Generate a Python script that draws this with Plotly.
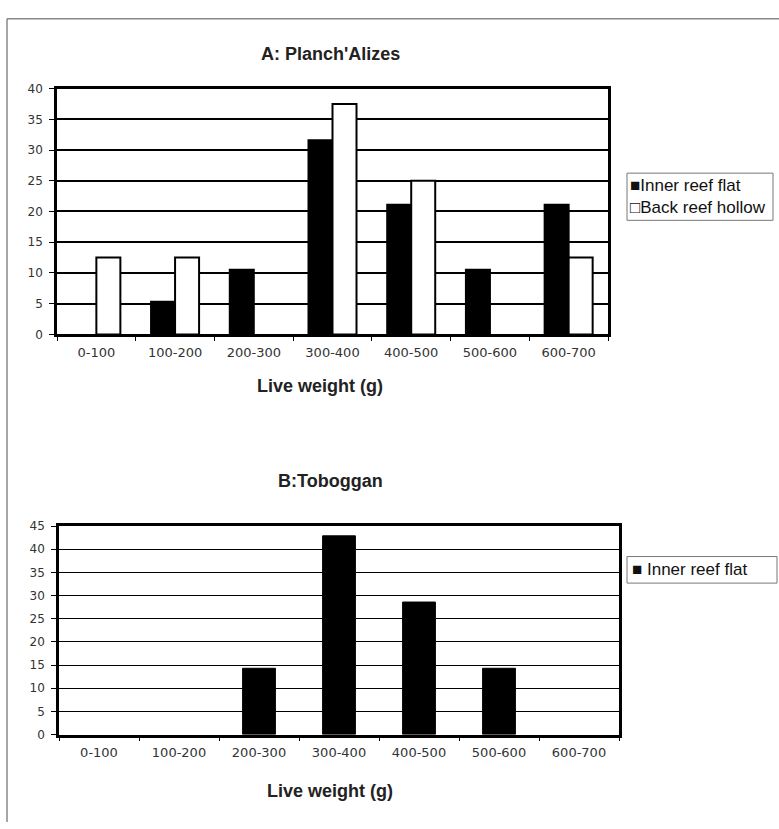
import plotly.graph_objects as go

categories = ["0-100", "100-200", "200-300", "300-400", "400-500", "500-600", "600-700"]
a_inner = [0, 5.3, 10.5, 31.6, 21.1, 10.5, 21.1]
a_back = [12.5, 12.5, 0, 37.5, 25.0, 0, 12.5]
b_inner = [0, 0, 14.3, 42.9, 28.6, 14.3, 0]
a_yticks = [0, 5, 10, 15, 20, 25, 30, 35, 40]
b_yticks = [0, 5, 10, 15, 20, 25, 30, 35, 40, 45]
legend_a = ["Inner reef flat", "Back reef hollow"]
legend_b = ["Inner reef flat"]

W, H = 779, 829
def px(x):
    return x / W
def py(y):
    return 1 - y / H

def lw(vals, w):
    return [w if v > 0 else 0 for v in vals]

fig = go.Figure()
fig.add_trace(go.Bar(x=categories, y=a_inner, name=legend_a[0],
                     marker=dict(color="black", line=dict(color="black", width=lw(a_inner, 2))),
                     xaxis="x", yaxis="y", showlegend=False))
fig.add_trace(go.Bar(x=categories, y=a_back, name=legend_a[1],
                     marker=dict(color="white", line=dict(color="black", width=lw(a_back, 2))),
                     xaxis="x", yaxis="y", showlegend=False))
fig.add_trace(go.Bar(x=categories, y=b_inner, name=legend_b[0],
                     marker=dict(color="black", line=dict(color="black", width=lw(b_inner, 1))),
                     xaxis="x2", yaxis="y2", offsetgroup="b", width=0.41, showlegend=False))

xtickfont = dict(family="DejaVu Sans", size=13, color="#333")
ytickfont = dict(family="DejaVu Sans", size=12, color="#333")
titlefont = dict(family="Liberation Sans", size=18, color="#222")

common_x = dict(type="category", showline=True, linecolor="black", mirror=True,
                ticks="outside", tickson="boundaries", ticklen=4, tickcolor="black",
                tickfont=xtickfont, showgrid=False, fixedrange=True, ticklabelstandoff=4)
common_y = dict(showgrid=True, gridcolor="black", showline=True, linecolor="black",
                linewidth=2.5, mirror=True, ticks="outside", ticklen=5, tickcolor="black",
                tickfont=ytickfont, zeroline=False, fixedrange=True, ticklabelstandoff=4)

fig.update_layout(
    width=W, height=H,
    margin=dict(l=0, r=0, t=0, b=0),
    paper_bgcolor="white", plot_bgcolor="white",
    barmode="group", bargap=0.39, bargroupgap=0,
    showlegend=False,
    xaxis=dict(domain=[px(57), px(608)], anchor="y", linewidth=2.5, **common_x),
    yaxis=dict(domain=[py(333), py(83)], anchor="x", range=[0, 40], tickvals=a_yticks,
               gridwidth=2, **common_y),
    xaxis2=dict(domain=[px(59), px(619)], anchor="y2", linewidth=2.5, **common_x),
    yaxis2=dict(domain=[py(740), py(528)], anchor="x2", range=[0, 45], tickvals=b_yticks,
                gridwidth=1, **common_y),
)

annots = [
    dict(text="<b>A: Planch'Alizes</b>", x=px(330), y=py(48)),
    dict(text="<b>Live weight (g)</b>", x=px(320), y=py(386)),
    dict(text="<b>B:Toboggan</b>", x=px(330), y=py(482)),
    dict(text="<b>Live weight (g)</b>", x=px(330), y=py(797)),
]
for a in annots:
    fig.add_annotation(xref="paper", yref="paper", showarrow=False,
                       xanchor="center", yanchor="middle", font=titlefont, **a)

# legends (boxes with symbol + label)
legfont = dict(family="Liberation Sans", size=17, color="#111")
fig.add_shape(type="rect", xref="paper", yref="paper", x0=px(627), x1=px(773),
              y0=py(217), y1=py(169), line=dict(color="#777", width=1), fillcolor="white")
fig.add_annotation(xref="paper", yref="paper", showarrow=False, xanchor="left", yanchor="middle",
                   x=px(628), y=py(182), text="■" + legend_a[0], font=legfont)
fig.add_annotation(xref="paper", yref="paper", showarrow=False, xanchor="left", yanchor="middle",
                   x=px(628), y=py(204), text="□" + legend_a[1], font=legfont)
fig.add_shape(type="rect", xref="paper", yref="paper", x0=px(627), x1=px(777),
              y0=py(586), y1=py(559), line=dict(color="#777", width=1), fillcolor="white")
fig.add_annotation(xref="paper", yref="paper", showarrow=False, xanchor="left", yanchor="middle",
                   x=px(630), y=py(572), text="■ " + legend_b[0], font=legfont)

# page frame
fig.add_shape(type="line", xref="paper", yref="paper", x0=px(7), x1=1, y0=py(12), y1=py(12),
              line=dict(color="#888", width=1.5))
fig.add_shape(type="line", xref="paper", yref="paper", x0=px(7), x1=px(7), y0=py(12), y1=0,
              line=dict(color="#888", width=1.5))

fig.write_html("out.html", config={"displayModeBar": False},
               post_script="document.body.style.margin='0';document.body.style.overflow='hidden';")
